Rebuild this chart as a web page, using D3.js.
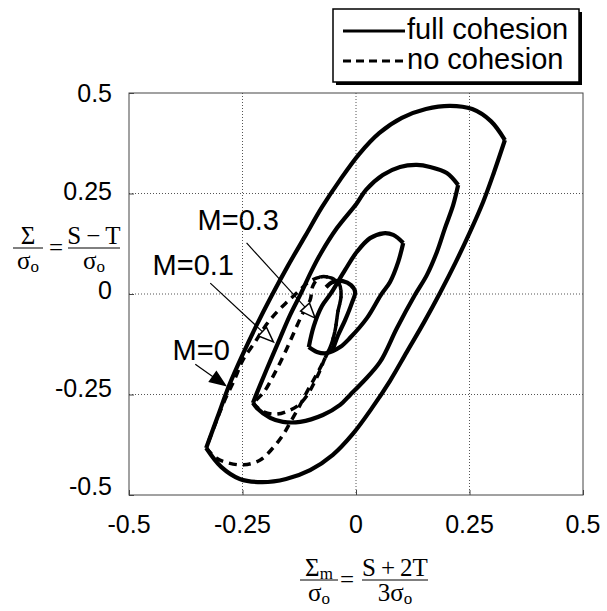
<!DOCTYPE html>
<html>
<head>
<meta charset="utf-8">
<script src="https://cdn.jsdelivr.net/npm/d3@7"></script>
<style>
  body { margin: 0; background: #fff; }
  svg { display: block; }
  .tick-label { font-family: "Liberation Sans", Arial, sans-serif; font-size: 25px; fill: #000; }
  .math { font-family: "Liberation Serif", "Times New Roman", serif; font-size: 25px; fill: #000; }
</style>
</head>
<body>
<svg width="607" height="611"></svg>
<script>
// tick values
var xTicks = [-0.5, -0.25, 0, 0.25, 0.5];
var yTicks = [-0.5, -0.25, 0, 0.25, 0.5];
var tickText = ["-0.5", "-0.25", "0", "0.25", "0.5"];

// full cohesion curves, each loop starts at the upper right corner
var fullM0 = [
  [0.328, 0.383], [0.304, 0.303], [0.280, 0.229], [0.251, 0.154], [0.220, 0.080],
  [0.187, 0.007], [0.150, -0.070], [0.112, -0.144], [0.075, -0.216], [0.035, -0.284],
  [-0.007, -0.348], [-0.051, -0.400], [-0.101, -0.438], [-0.154, -0.460], [-0.207, -0.468],
  [-0.256, -0.460], [-0.297, -0.430], [-0.330, -0.383],
  [-0.304, -0.303], [-0.280, -0.229], [-0.251, -0.154], [-0.220, -0.080], [-0.187, -0.007],
  [-0.150, 0.070], [-0.112, 0.144], [-0.075, 0.216], [-0.035, 0.284], [0.007, 0.348],
  [0.051, 0.400], [0.101, 0.438], [0.154, 0.460], [0.207, 0.468], [0.256, 0.460],
  [0.297, 0.430], [0.328, 0.383]
];
var fullM01 = [
  [0.225, 0.271], [0.214, 0.221], [0.196, 0.164], [0.178, 0.104], [0.156, 0.047],
  [0.130, -0.002], [0.090, -0.085], [0.053, -0.169], [0.015, -0.219], [-0.013, -0.251],
  [-0.035, -0.276], [-0.073, -0.301], [-0.123, -0.318], [-0.161, -0.318], [-0.189, -0.308],
  [-0.218, -0.284], [-0.227, -0.271],
  [-0.211, -0.226], [-0.189, -0.167], [-0.167, -0.109], [-0.145, -0.052], [-0.121, 0.002],
  [-0.099, 0.055], [-0.077, 0.102], [-0.042, 0.164], [0.002, 0.226], [0.022, 0.259],
  [0.059, 0.296], [0.097, 0.316], [0.134, 0.321], [0.163, 0.316], [0.200, 0.301],
  [0.225, 0.271]
];
var fullM03 = [
  [0.104, 0.127], [0.093, 0.080], [0.075, 0.030], [0.055, -0.002], [0.024, -0.060],
  [-0.013, -0.109], [-0.035, -0.132], [-0.064, -0.147], [-0.086, -0.144], [-0.104, -0.132],
  [-0.093, -0.080], [-0.075, -0.030], [-0.055, 0.002], [-0.024, 0.060], [0.002, 0.105],
  [0.031, 0.139], [0.060, 0.151], [0.082, 0.147], [0.104, 0.127]
];
// short solid cap crossing the inner loop
var fullM03Cap = [
  [-0.066, 0.017], [-0.051, 0.030], [-0.029, 0.032], [-0.011, 0.022], [-0.002, 0.005],
  [-0.009, -0.022], [-0.024, -0.065], [-0.040, -0.104], [-0.052, -0.142]
];

// no cohesion curves, starting at the lower left corner
var noCohM0 = [
  [-0.330, -0.383], [-0.308, -0.408], [-0.282, -0.420], [-0.247, -0.425], [-0.211, -0.413],
  [-0.183, -0.383], [-0.161, -0.351], [-0.143, -0.316], [-0.123, -0.276], [-0.106, -0.239],
  [-0.086, -0.199], [-0.070, -0.164], [-0.055, -0.127], [-0.046, -0.090], [-0.040, -0.045],
  [-0.033, -0.005], [-0.037, 0.025], [-0.055, 0.040], [-0.079, 0.042], [-0.104, 0.030],
  [-0.128, 0.005], [-0.152, -0.020], [-0.176, -0.047], [-0.200, -0.080], [-0.222, -0.119],
  [-0.249, -0.164], [-0.266, -0.209], [-0.289, -0.264], [-0.311, -0.326], [-0.330, -0.383]
];
var noCohM01 = [
  [-0.227, -0.271], [-0.207, -0.291], [-0.178, -0.299], [-0.150, -0.291], [-0.126, -0.276],
  [-0.106, -0.249], [-0.090, -0.216], [-0.077, -0.184], [-0.070, -0.164], [-0.055, -0.127],
  [-0.046, -0.090], [-0.040, -0.045], [-0.033, -0.005], [-0.037, 0.025], [-0.055, 0.040],
  [-0.079, 0.042], [-0.095, 0.020], [-0.101, -0.015], [-0.119, -0.052], [-0.139, -0.102],
  [-0.159, -0.152], [-0.181, -0.201], [-0.203, -0.244], [-0.227, -0.271]
];

// labels with arrows: text anchor, arrow start, arrow tip
var mLabels = ["M=0.3", "M=0.1", "M=0"];
var mLabelPos = [[-0.349, 0.159], [-0.448, 0.047], [-0.404, -0.165]];
var mArrowFrom = [[-0.241, 0.127], [-0.321, 0.027], [-0.354, -0.175]];
var mArrowTo = [[-0.090, -0.060], [-0.182, -0.119], [-0.288, -0.227]];
var mHeadFilled = [false, false, true];

var svg = d3.select("svg");
var margin = {left: 129, top: 93, right: 24, bottom: 116};
var width = 607 - margin.left - margin.right,
    height = 611 - margin.top - margin.bottom;

var x = d3.scaleLinear().domain([-0.5, 0.5]).range([margin.left, margin.left + width]);
var y = d3.scaleLinear().domain([-0.5, 0.5]).range([margin.top + height, margin.top]);

// grid
var grid = svg.append("g");
grid.selectAll(".vg").data(xTicks.slice(1, -1)).enter().append("line")
    .attr("x1", function(d) { return x(d); }).attr("x2", function(d) { return x(d); })
    .attr("y1", y(0.5)).attr("y2", y(-0.5))
    .attr("stroke", "#555").attr("stroke-width", 1).attr("stroke-dasharray", "1,2");
grid.selectAll(".hg").data(yTicks.slice(1, -1)).enter().append("line")
    .attr("y1", function(d) { return y(d); }).attr("y2", function(d) { return y(d); })
    .attr("x1", x(-0.5)).attr("x2", x(0.5))
    .attr("stroke", "#555").attr("stroke-width", 1).attr("stroke-dasharray", "1,2");

// frame + ticks
svg.append("rect")
    .attr("x", x(-0.5)).attr("y", y(0.5))
    .attr("width", width).attr("height", height)
    .attr("fill", "none").attr("stroke", "#444").attr("stroke-width", 1);

var xAxis = d3.axisBottom(x).tickValues(xTicks).tickSize(-5).tickFormat("");
var yAxis = d3.axisLeft(y).tickValues(yTicks).tickSize(-5).tickFormat("");
svg.append("g").attr("transform", "translate(0," + y(-0.5) + ")").call(xAxis)
    .call(function(g) { g.select(".domain").remove(); g.selectAll("line").attr("stroke", "#444"); });
svg.append("g").attr("transform", "translate(" + x(-0.5) + ",0)").call(yAxis)
    .call(function(g) { g.select(".domain").remove(); g.selectAll("line").attr("stroke", "#444"); });

// tick labels
svg.selectAll(".xl").data(xTicks).enter().append("text")
    .attr("class", "tick-label")
    .attr("x", function(d) { return x(d); })
    .attr("y", y(-0.5) + 38)
    .attr("text-anchor", "middle")
    .text(function(d, i) { return tickText[i]; });
var yLab = d3.scaleLinear().domain([-0.5, 0.5]).range([486, 93]);
svg.selectAll(".yl").data(yTicks).enter().append("text")
    .attr("class", "tick-label")
    .attr("x", 112)
    .attr("y", function(d) { return yLab(d) + 9; })
    .attr("text-anchor", "end")
    .text(function(d, i) { return tickText[i]; });

// curves: split loops at the lower left corner so both corners stay sharp
var line = d3.line()
    .x(function(d) { return x(d[0]); })
    .y(function(d) { return y(d[1]); })
    .curve(d3.curveCatmullRom.alpha(0.5));

function drawPath(p, dashed) {
  svg.append("path")
    .attr("d", line(p))
    .attr("fill", "none")
    .attr("stroke", "#000")
    .attr("stroke-width", dashed ? 3.5 : 4.2)
    .attr("stroke-linejoin", "round")
    .attr("stroke-dasharray", dashed ? "8,6" : null);
}
function drawLoop(pts, dashed) {
  var k = d3.minIndex(pts, function(d) { return d[0]; });
  if (k === 0 || k === pts.length - 1) { drawPath(pts, dashed); return; }
  drawPath(pts.slice(0, k + 1), dashed);
  drawPath(pts.slice(k), dashed);
}

drawLoop(fullM0, false);
drawLoop(fullM01, false);
drawLoop(fullM03, false);
drawPath(fullM03Cap, false);
drawLoop(noCohM0, true);
drawLoop(noCohM01, true);

// M labels and arrows
mLabels.forEach(function(t, i) {
  var x0 = x(mArrowFrom[i][0]), y0 = y(mArrowFrom[i][1]);
  var x1 = x(mArrowTo[i][0]), y1 = y(mArrowTo[i][1]);
  var ang = Math.atan2(y1 - y0, x1 - x0);
  var L = 15, W = 6;
  var bx = x1 - L * Math.cos(ang), by = y1 - L * Math.sin(ang);
  svg.append("line").attr("x1", x0).attr("y1", y0).attr("x2", bx).attr("y2", by)
    .attr("stroke", "#000").attr("stroke-width", 1.2);
  var head = [
    [x1, y1],
    [bx + W * Math.sin(ang), by - W * Math.cos(ang)],
    [bx - W * Math.sin(ang), by + W * Math.cos(ang)]
  ];
  svg.append("path").attr("d", "M" + head.join("L") + "Z")
    .attr("fill", mHeadFilled[i] ? "#000" : "#fff")
    .attr("stroke", "#000").attr("stroke-width", 1.5);
  svg.append("text").attr("class", "tick-label")
    .attr("x", x(mLabelPos[i][0])).attr("y", y(mLabelPos[i][1]))
    .style("font-size", "29px")
    .text(t);
});

// axis labels as stacked fractions
function fraction(g, cx, top, bottom, barW) {
  g.append("line").attr("x1", cx - barW / 2).attr("x2", cx + barW / 2)
    .attr("y1", 0).attr("y2", 0).attr("stroke", "#000").attr("stroke-width", 1);
  var t1 = g.append("text").attr("class", "math").attr("x", cx).attr("y", -4)
    .attr("text-anchor", "middle");
  top(t1);
  var t2 = g.append("text").attr("class", "math").attr("x", cx).attr("y", 21)
    .attr("text-anchor", "middle");
  bottom(t2);
}
function sub(t, main, s) {
  t.append("tspan").text(main);
  t.append("tspan").attr("dy", 3).style("font-size", "17px").text(s);
}

var yl = svg.append("g").attr("transform", "translate(0,248)");
fraction(yl, 28, function(t) { t.text("Σ"); }, function(t) { sub(t, "σ", "o"); }, 30);
yl.append("text").attr("class", "math").attr("x", 56).attr("y", 8).attr("text-anchor", "middle").text("=");
fraction(yl, 94, function(t) { t.text("S\u2009\u2212\u2009T"); }, function(t) { sub(t, "σ", "o"); }, 52);

var xl = svg.append("g").attr("transform", "translate(0,580)");
fraction(xl, 319, function(t) { sub(t, "Σ", "m"); }, function(t) { sub(t, "σ", "o"); }, 38);
xl.append("text").attr("class", "math").attr("x", 347).attr("y", 8).attr("text-anchor", "middle").text("=");
fraction(xl, 395, function(t) { t.text("S\u2009+\u20092T"); }, function(t) { sub(t, "3σ", "o"); }, 66);

// legend
var leg = svg.append("g");
leg.append("rect").attr("x", 336).attr("y", 12).attr("width", 246).attr("height", 73).attr("fill", "#000");
leg.append("rect").attr("x", 333).attr("y", 9).attr("width", 246).attr("height", 73)
  .attr("fill", "#fff").attr("stroke", "#000").attr("stroke-width", 1.5);
var legNames = ["full cohesion", "no cohesion"];
legNames.forEach(function(n, i) {
  var ly = 31 + i * 30;
  leg.append("line").attr("x1", 343).attr("x2", 405).attr("y1", ly).attr("y2", ly)
    .attr("stroke", "#000").attr("stroke-width", 3)
    .attr("stroke-dasharray", i ? "8,5" : null);
  leg.append("text").attr("class", "tick-label").attr("x", 407).attr("y", ly + 8)
    .style("font-size", "29px").text(n);
});
</script>
</body>
</html>
